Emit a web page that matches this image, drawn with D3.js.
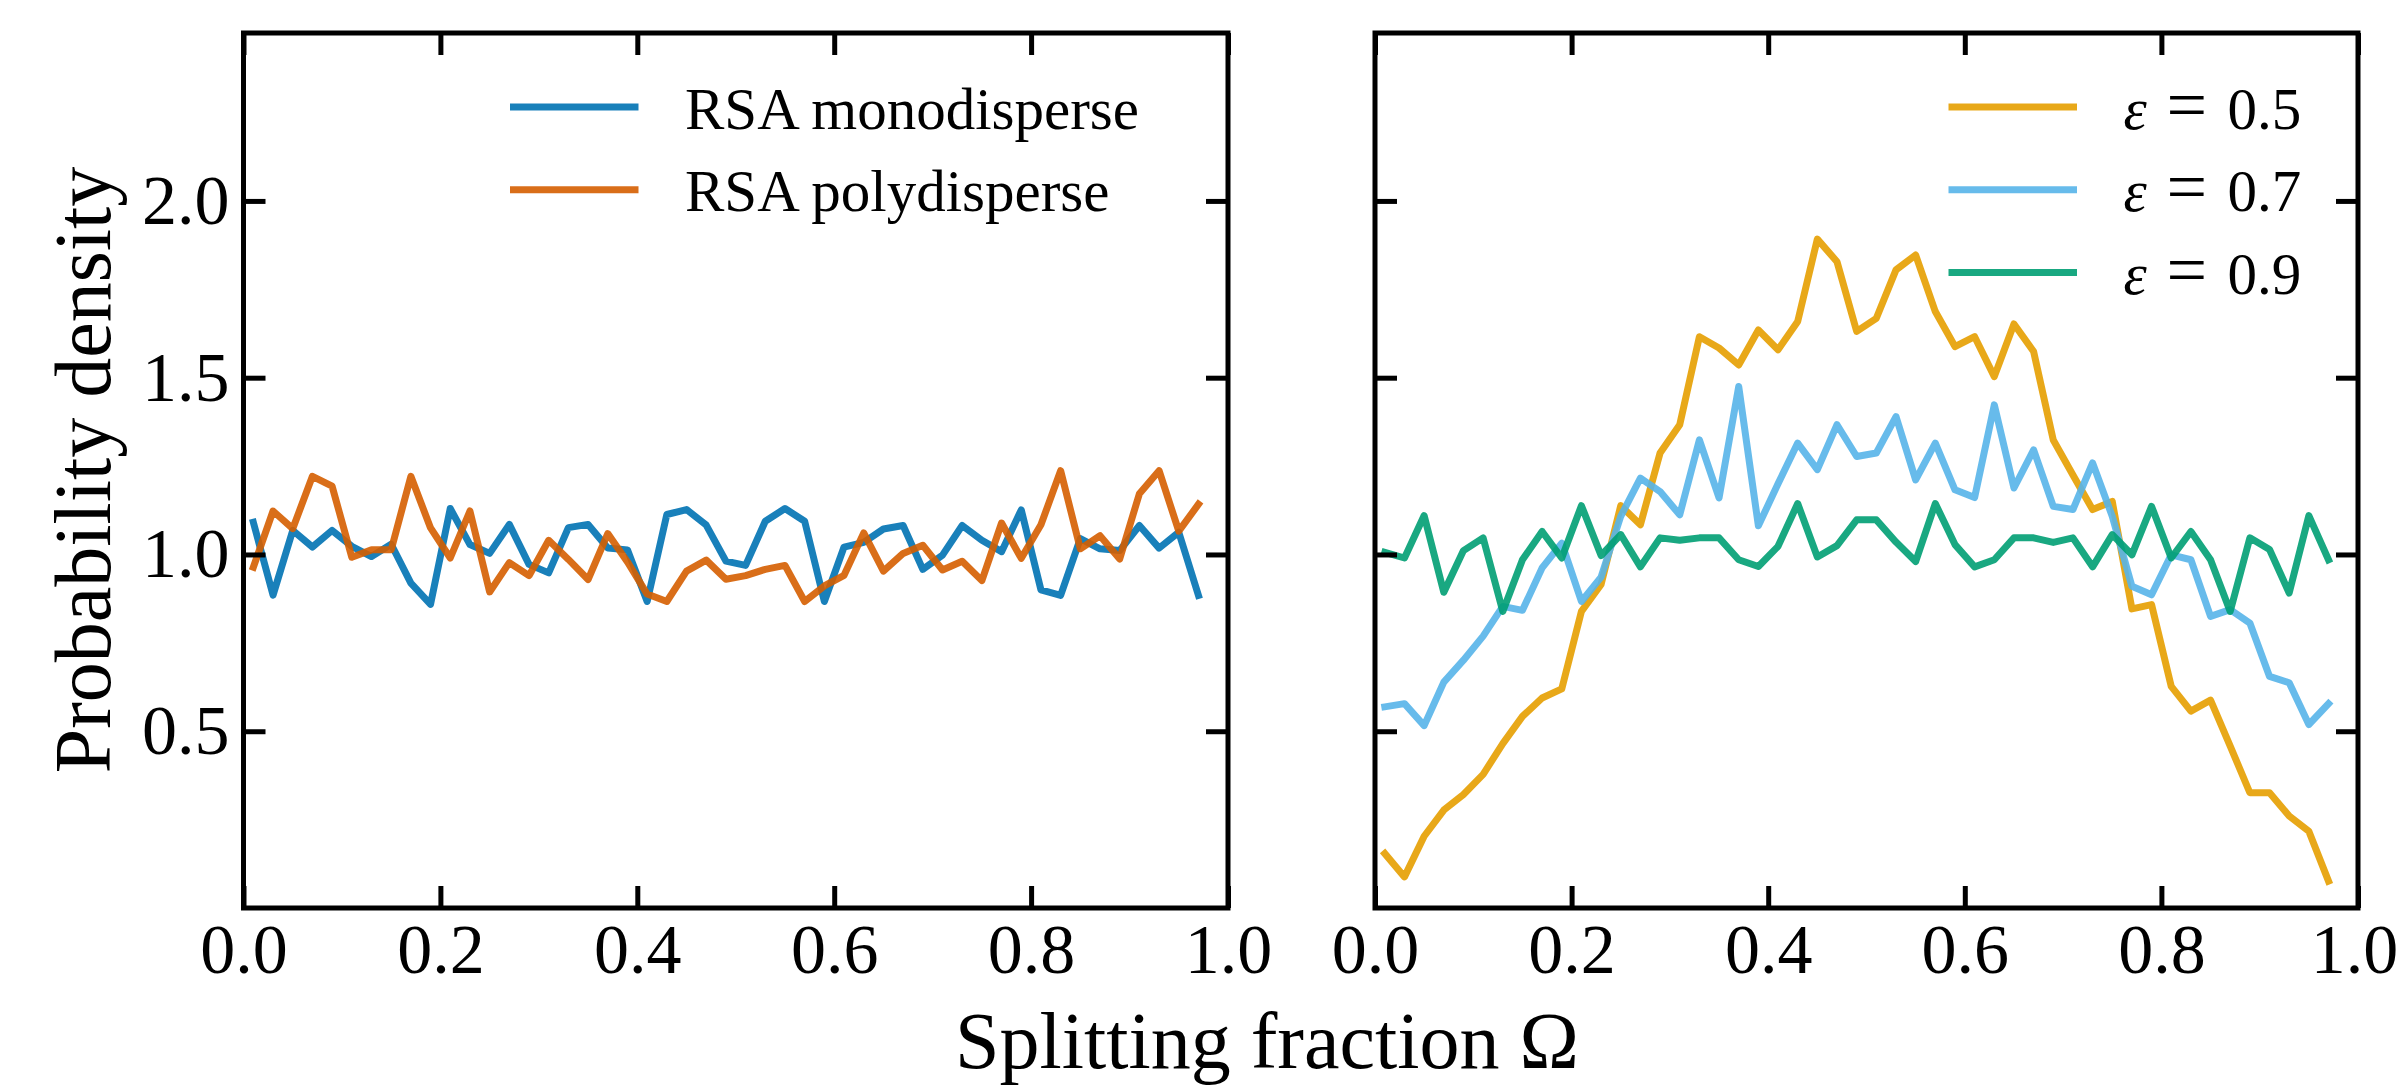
<!DOCTYPE html>
<html>
<head>
<meta charset="utf-8">
<script src="https://cdn.jsdelivr.net/npm/d3@7"></script>
<style>
  body{margin:0;background:#fff}
</style>
</head>
<body>
<svg id="chart" width="2400" height="1088"></svg>
<script>
// bin centres of the splitting fraction histogram
var omega = [0.01,0.03,0.05,0.07,0.09,0.11,0.13,0.15,0.17,0.19,
             0.21,0.23,0.25,0.27,0.29,0.31,0.33,0.35,0.37,0.39,
             0.41,0.43,0.45,0.47,0.49,0.51,0.53,0.55,0.57,0.59,
             0.61,0.63,0.65,0.67,0.69,0.71,0.73,0.75,0.77,0.79,
             0.81,0.83,0.85,0.87,0.89,0.91,0.93,0.95,0.97]

var rsa_mono = [1.091,0.885,1.068,1.021,1.068,1.023,0.994,1.029,0.919,0.859,
                1.130,1.028,1.003,1.085,0.972,0.948,1.076,1.085,1.018,1.013,
                0.867,1.113,1.127,1.083,0.981,0.969,1.094,1.130,1.094,0.867,
                1.021,1.034,1.072,1.082,0.958,0.998,1.082,1.040,1.008,1.126,
                0.900,0.884,1.045,1.016,1.011,1.082,1.018,1.063,0.884]

var rsa_poly = [0.964,1.123,1.073,1.221,1.193,0.992,1.013,1.013,1.221,1.075,
                0.990,1.123,0.894,0.977,0.940,1.040,0.986,0.929,1.059,0.979,
                0.888,0.867,0.953,0.984,0.930,0.940,0.958,0.969,0.867,0.911,
                0.941,1.061,0.953,1.003,1.026,0.956,0.981,0.926,1.089,0.989,
                1.084,1.237,1.016,1.053,0.987,1.172,1.237,1.066,1.142]

var eps_05 = [0.154,0.088,0.203,0.277,0.321,0.378,0.465,0.542,0.594,0.620,
              0.839,0.915,1.138,1.084,1.287,1.367,1.616,1.584,1.536,1.635,
              1.579,1.659,1.892,1.828,1.631,1.668,1.805,1.847,1.687,1.588,
              1.616,1.503,1.652,1.574,1.324,1.225,1.127,1.150,0.846,0.858,
              0.627,0.557,0.588,0.458,0.326,0.326,0.260,0.217,0.076]

var eps_07 = [0.569,0.578,0.516,0.639,0.701,0.769,0.853,0.842,0.962,1.032,
              0.867,0.936,1.108,1.216,1.178,1.112,1.324,1.160,1.475,1.081,
              1.200,1.315,1.240,1.367,1.277,1.287,1.390,1.211,1.315,1.183,
              1.161,1.423,1.188,1.296,1.136,1.127,1.259,1.108,0.910,0.886,
              0.999,0.985,0.825,0.844,0.806,0.655,0.637,0.519,0.578]

var eps_09 = [1.006,0.990,1.110,0.893,1.011,1.047,0.839,0.985,1.065,0.990,
              1.138,0.997,1.056,0.965,1.047,1.040,1.047,1.047,0.985,0.966,
              1.023,1.144,0.993,1.025,1.098,1.098,1.035,0.980,1.144,1.028,
              0.965,0.985,1.047,1.047,1.034,1.047,0.965,1.056,0.999,1.136,
              0.990,1.065,0.985,0.839,1.047,1.014,0.891,1.110,0.985]

var x_ticks = [0, 0.2, 0.4, 0.6, 0.8, 1.0]
var y_ticks = [0.5, 1.0, 1.5, 2.0]

// pick the first serif face that is really installed
var pick_font = function(){
  var candidates = ["Liberation Serif", "DejaVu Serif", "Noto Serif", "Tinos", "Times New Roman", "FreeSerif", "Nimbus Roman", "Georgia"]
  var ctx = document.createElement("canvas").getContext("2d")
  var probe = "Splitting fraction 0.123 mwWi"
  var widths = ["monospace", "sans-serif"].map(function(b){
    ctx.font = "70px " + b
    return ctx.measureText(probe).width
  })
  for(var i in candidates){
    var ok = ["monospace", "sans-serif"].every(function(b, j){
      ctx.font = "70px '" + candidates[i] + "', " + b
      return Math.abs(ctx.measureText(probe).width - widths[j]) > 0.5
    })
    if(ok) return "'" + candidates[i] + "', serif"
  }
  return "serif"
}
var font = pick_font()

var svg = d3.select("#chart").style("font-family", font)
var top_y = 33, bottom_y = 908
var y = d3.scaleLinear().domain([0, 2.475]).range([bottom_y, top_y])

var panels = [
  {id: "left", x0: 243.5, x1: 1228, ylabels: true,
   series: [
     {name: "RSA monodisperse", values: rsa_mono, color: "#0072B2"},
     {name: "RSA polydisperse", values: rsa_poly, color: "#D55E00"}
   ],
   legend_x: 510},
  {id: "right", x0: 1375, x1: 2358, ylabels: false,
   series: [
     {eps: "0.5", values: eps_05, color: "#E69F00"},
     {eps: "0.7", values: eps_07, color: "#56B4E9"},
     {eps: "0.9", values: eps_09, color: "#009E73"}
   ],
   legend_x: 1948.5}
]

var style_axis = function(g, labels){
  g.attr("font-family", font)
  g.select(".domain").remove()
  g.selectAll(".tick line").attr("stroke", "#000").attr("stroke-width", 5)
  g.selectAll(".tick text").attr("font-size", 70).attr("fill", "#000")
  if(!labels) g.selectAll(".tick text").remove()
}

var draw_panel = function(p){
  var x = d3.scaleLinear().domain([0, 1]).range([p.x0, p.x1])
  var g = svg.append("g").attr("class", "panel-" + p.id)

  g.append("clipPath").attr("id", "clip-" + p.id)
    .append("rect")
      .attr("x", p.x0).attr("y", top_y)
      .attr("width", p.x1 - p.x0).attr("height", bottom_y - top_y)

  var line = d3.line()
    .x(function(d){ return x(d[0]) })
    .y(function(d){ return y(d[1]) })

  g.append("g").attr("clip-path", "url(#clip-" + p.id + ")")
    .selectAll("path.series")
      .data(p.series)
    .enter().append("path")
      .classed("series", true)
      .attr("fill", "none")
      .attr("stroke", function(d){ return d.color })
      .attr("stroke-opacity", 0.9)
      .attr("stroke-width", 7)
      .attr("stroke-linejoin", "round")
      .attr("stroke-linecap", "square")
      .attr("d", function(d){ return line(d3.zip(omega, d.values)) })

  // inward ticks on all four sides
  var fmt = d3.format(".1f")
  var bottom = g.append("g").attr("transform", "translate(0," + bottom_y + ")")
    .call(d3.axisBottom(x).tickValues(x_ticks).tickFormat(fmt).tickSizeInner(-22).tickSizeOuter(0).tickPadding(15))
    .call(style_axis, true)
  // keep the last label of the figure inside the page
  if(p.id == "right") bottom.selectAll(".tick text").filter(function(d){ return d == 1 }).attr("dx", -4)
  g.append("g").attr("transform", "translate(0," + top_y + ")")
    .call(d3.axisTop(x).tickValues(x_ticks).tickSizeInner(-22).tickSizeOuter(0))
    .call(style_axis, false)
  g.append("g").attr("transform", "translate(" + p.x0 + ",0)")
    .call(d3.axisLeft(y).tickValues(y_ticks).tickFormat(fmt).tickSizeInner(-22).tickSizeOuter(0).tickPadding(14))
    .call(style_axis, p.ylabels)
  g.append("g").attr("transform", "translate(" + p.x1 + ",0)")
    .call(d3.axisRight(y).tickValues(y_ticks).tickSizeInner(-22).tickSizeOuter(0))
    .call(style_axis, false)

  g.append("rect")
    .attr("x", p.x0).attr("y", top_y)
    .attr("width", p.x1 - p.x0).attr("height", bottom_y - top_y)
    .attr("fill", "none").attr("stroke", "#000").attr("stroke-width", 5)

  // legend
  var leg = g.append("g").attr("class", "legend")
  p.series.forEach(function(s, i){
    var ly = 107 + i * 82.7
    leg.append("line")
      .attr("x1", p.legend_x).attr("x2", p.legend_x + 128.5)
      .attr("y1", ly).attr("y2", ly)
      .attr("stroke", s.color).attr("stroke-opacity", 0.9)
      .attr("stroke-width", 7)
    var tx = p.legend_x + 175
    var t = leg.append("text").attr("y", ly + 21.5).attr("font-size", 59)
    if(s.name){
      t.attr("x", tx).text(s.name)
    }else{
      t.append("tspan").attr("x", tx).attr("font-style", "italic").text("\u03b5")
      t.append("tspan").attr("x", tx + 43).attr("font-size", 72).text("=")
      t.append("tspan").attr("x", tx + 104).text(s.eps)
    }
  })
}

panels.forEach(draw_panel)

svg.append("text")
  .attr("x", 1267).attr("y", 1068)
  .attr("text-anchor", "middle")
  .attr("font-size", 80)
  .text("Splitting fraction \u03a9")

svg.append("text")
  .attr("transform", "translate(110,470) rotate(-90)")
  .attr("text-anchor", "middle")
  .attr("font-size", 80)
  .text("Probability density")
</script>
</body>
</html>
